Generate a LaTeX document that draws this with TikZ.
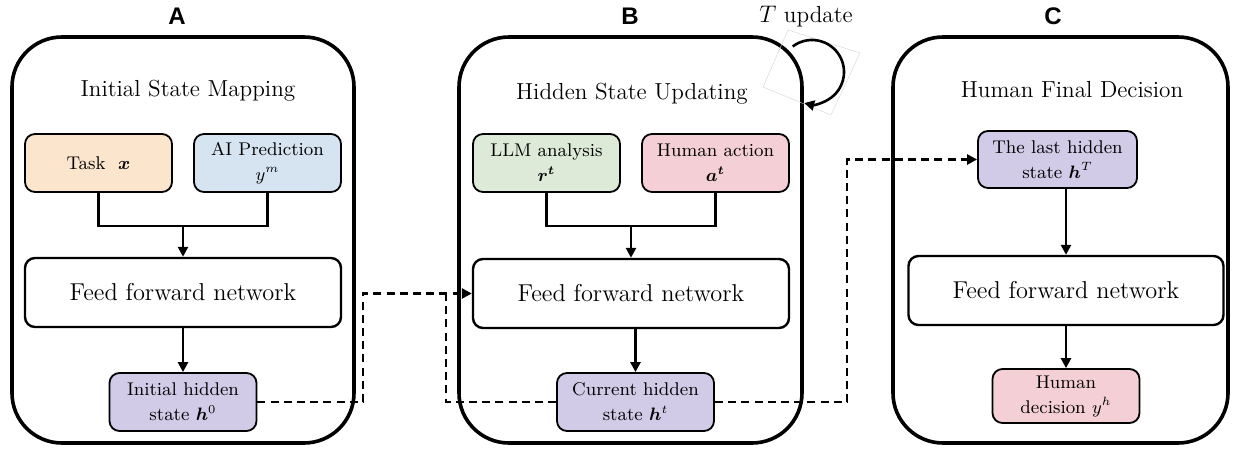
\documentclass[tikz,border=0pt]{standalone}
\usepackage{amsmath,bm}
\usepackage{fontspec}
\newfontfamily\headfont{Liberation Sans}
\usetikzlibrary{arrows.meta}
\definecolor{taskcol}{HTML}{FBE5CD}
\definecolor{predcol}{HTML}{D6E4F2}
\definecolor{llmcol}{HTML}{DDEAD7}
\definecolor{actcol}{HTML}{F4D0D6}
\definecolor{hidcol}{HTML}{D1CBE7}
\tikzset{
  panel/.style={draw, line width=1.8pt, rounded corners=25pt},
  smallbox/.style={draw, line width=0.9pt, rounded corners=5pt, minimum width=73.5pt, minimum height=29pt, align=center, inner sep=1pt, font=\fontsize{9.2}{12.5}\selectfont},
  ffbox/.style={draw, line width=1.2pt, rounded corners=5pt, minimum width=158pt, minimum height=34.5pt, font=\fontsize{12.2}{14}\selectfont},
  heading/.style={font=\fontsize{11.6}{14}\selectfont},
  letter/.style={font=\headfont\bfseries\fontsize{12}{14}\selectfont},
  link/.style={line width=1.3pt},
  arr/.style={line width=1.3pt, -{Triangle[length=5pt,width=5pt]}},
  dashlink/.style={line width=1.4pt, dash pattern=on 4pt off 2.6pt},
}
\begin{document}
\begin{tikzpicture}[x=0.5pt, y=-0.5pt]
    \useasboundingbox (0,0) rectangle (1238,450);
    % panels
    \draw[panel] (12,37) rectangle (354,443);
    \draw[panel] (459,37) rectangle (802,443);
    \draw[panel] (893,37) rectangle (1228,443);
    \node[letter] (labA) at (177,16) {A};
    \node[letter] (labB) at (630,16) {B};
    \node[letter] (labC) at (1053,16) {C};
    \node[heading] (headA) at (188,91) {Initial State Mapping};
    \node[heading] (headB) at (632,94) {Hidden State Updating};
    \node[heading] (headC) at (1072,90) {Human Final Decision};
    % A
    \node[smallbox, fill=taskcol] (task) at (98.5,163) {Task~~$\bm{x}$};
    \node[smallbox, fill=predcol] (pred) at (267.5,163) {AI Prediction\\$y^m$};
    \node[ffbox] (ffA) at (183,292.5) {Feed forward network};
    \node[smallbox, fill=hidcol] (hzero) at (183,402) {Initial hidden\\state $\bm{h}^0$};
    \coordinate (jA) at (183,226);
    \draw[link] (task.south) |- (jA) -| (pred.south);
    \draw[arr] (jA) -- (ffA);
    \draw[arr] (ffA) -- (hzero);
    % B
    \node[smallbox, fill=llmcol] (llm) at (546.5,163) {LLM analysis\\$\bm{r}^{\bm{t}}$};
    \node[smallbox, fill=actcol] (act) at (715.5,163) {Human action\\$\bm{a}^{\bm{t}}$};
    \node[ffbox] (ffB) at (631,293.5) {Feed forward network};
    \node[smallbox, fill=hidcol, minimum width=78.5pt] (hcur) at (635.5,402) {Current hidden\\state $\bm{h}^t$};
    \coordinate (jB) at (631,226);
    \draw[link] (llm.south) |- (jB) -| (act.south);
    \draw[arr] (jB) -- (ffB);
    \draw[arr] (ffB.south -| hcur.north) -- (hcur.north);
    % T update
    \coordinate (loopc) at (812,72);
    \draw[gray!35, line width=0.2pt] (788,30) -- (860,53) -- (831,115) -- (763,87) -- cycle;
    \draw[arr] ([shift={(127:16pt)}]loopc) arc[start angle=127, end angle=-104, radius=16pt];
    \node[heading] (tup) at (806,17) {$T$ update};
    % C
    \node[smallbox, fill=hidcol, minimum width=79.5pt, minimum height=28.5pt] (hlast) at (1057.5,159.5) {The last hidden\\state $\bm{h}^T$};
    \node[ffbox, minimum width=157.5pt] (ffC) at (1066,290.5) {Feed forward network};
    \node[smallbox, fill=actcol, minimum height=27pt] (hdec) at (1066,396) {Human\\decision $y^h$};
    \draw[arr] (hlast.south -| ffC.north) -- (ffC.north);
    \draw[arr] (ffC) -- (hdec);
    % dashed links
    \coordinate (dA) at (363,293.5);
    \coordinate (fb) at (446,293.5);
    \coordinate (dB) at (847,159.5);
    \draw[dashlink, -{Triangle[length=5pt,width=5pt]}] (hzero.east) -| (dA) -- (ffB.west);
    \draw[dashlink] (hcur.west) -| (fb);
    \draw[dashlink, -{Triangle[length=5pt,width=5pt]}] (hcur.east) -| (dB) -- (hlast.west);
\end{tikzpicture}
\end{document}
